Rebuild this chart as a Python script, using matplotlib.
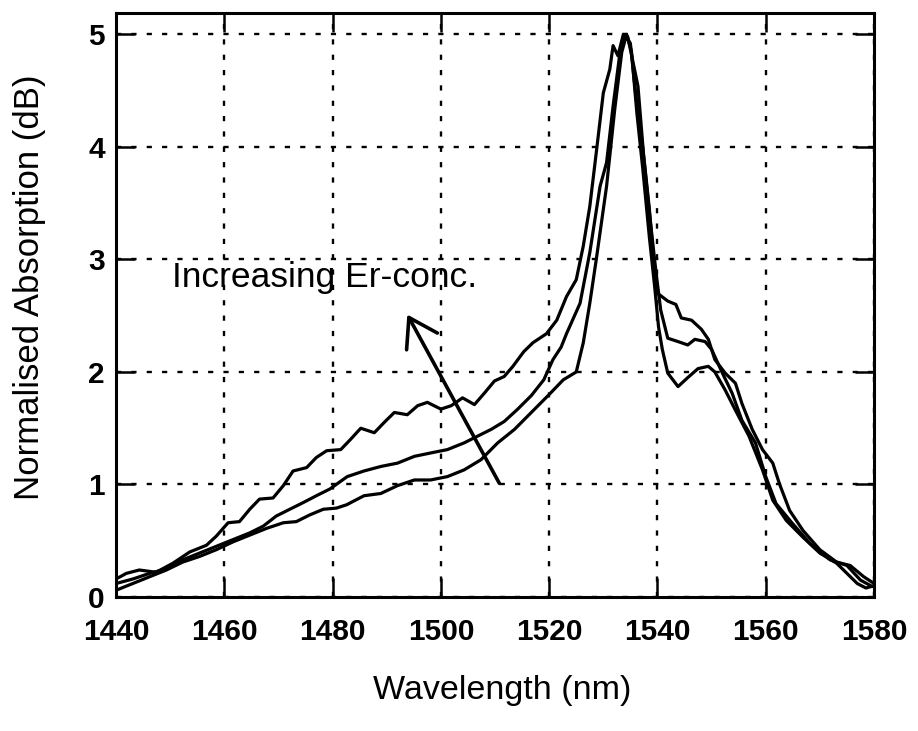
import numpy as np
import matplotlib
matplotlib.use("Agg")
import matplotlib.pyplot as plt

plt.rcParams['font.family'] = ['Liberation Sans', 'DejaVu Sans']

# highest Er concentration (broadest long-wavelength wing)
wl_a = [1440, 1441.9, 1444.3, 1447.4, 1450.5, 1453.6, 1456.7, 1458.5, 1460.7, 1462.8,
        1464.7, 1466.5, 1469, 1470.9, 1472.7, 1475.2, 1477, 1478.9, 1481.5, 1483.3,
        1485.2, 1487.7, 1489.5, 1491.4, 1493.8, 1495.7, 1497.5, 1500, 1501.9, 1504,
        1506.2, 1508, 1509.9, 1511.7, 1513.3, 1515.3, 1517, 1519.5, 1521.4, 1523.2,
        1525, 1526.3, 1527.5, 1528.7, 1530, 1531.2, 1531.8, 1532.7, 1533.7, 1534.5,
        1535.5, 1536.4, 1537.4, 1538.5, 1539.3, 1540, 1541.9, 1543.4, 1544.4, 1546.3,
        1548.1, 1549.4, 1550.6, 1552.5, 1554.4, 1555.6, 1557.5, 1559.4, 1561.3, 1562.5,
        1564.4, 1566.9, 1570, 1573.1, 1575.6, 1578.1, 1580]
abs_a = [0.16, 0.21, 0.24, 0.22, 0.30, 0.40, 0.46, 0.54, 0.66, 0.67,
         0.78, 0.87, 0.88, 0.99, 1.12, 1.15, 1.24, 1.30, 1.31, 1.40,
         1.50, 1.46, 1.55, 1.64, 1.62, 1.70, 1.73, 1.67, 1.70, 1.77,
         1.71, 1.81, 1.92, 1.96, 2.05, 2.18, 2.26, 2.34, 2.46, 2.67,
         2.82, 3.12, 3.47, 3.95, 4.48, 4.69, 4.90, 4.81, 5.00, 4.98,
         4.75, 4.54, 3.95, 3.45, 3.00, 2.70, 2.63, 2.60, 2.48, 2.46,
         2.38, 2.29, 2.11, 1.99, 1.90, 1.72, 1.49, 1.31, 1.19, 1.01,
         0.77, 0.59, 0.42, 0.31, 0.28, 0.18, 0.12]

# intermediate Er concentration
wl_b = [1440, 1443.1, 1446.2, 1449.3, 1452.3, 1455.4, 1458.5, 1461.6, 1464.7, 1467.2,
        1469.6, 1472.1, 1474.6, 1477, 1479.5, 1482.7, 1485.8, 1488.9, 1492, 1495.1,
        1498.1, 1501.2, 1504.3, 1506.8, 1509.3, 1511.7, 1514.2, 1516.7, 1519, 1520.7,
        1522.2, 1523.2, 1525.7, 1527.5, 1529.4, 1530.6, 1531.8, 1533, 1534, 1535,
        1536, 1537.2, 1538.5, 1539.7, 1540.6, 1541.9, 1543.8, 1545.6, 1546.9, 1548.8,
        1550, 1551.9, 1553.8, 1555.6, 1558.1, 1560, 1561.9, 1565, 1568.1, 1571.9,
        1575, 1577.5, 1579.4, 1580]
abs_b = [0.12, 0.16, 0.21, 0.25, 0.33, 0.39, 0.45, 0.51, 0.57, 0.63,
         0.72, 0.78, 0.84, 0.90, 0.96, 1.07, 1.12, 1.16, 1.19, 1.25,
         1.28, 1.31, 1.37, 1.43, 1.49, 1.56, 1.67, 1.79, 1.93, 2.11,
         2.22, 2.34, 2.61, 3.06, 3.65, 3.86, 4.36, 4.81, 5.00, 4.92,
         4.46, 4.03, 3.42, 2.90, 2.55, 2.30, 2.27, 2.24, 2.29, 2.27,
         2.20, 2.00, 1.81, 1.57, 1.37, 1.07, 0.83, 0.65, 0.48, 0.33,
         0.28, 0.15, 0.10, 0.09]

# lowest Er concentration (narrowest peak, dip at 1543 nm)
wl_c = [1440, 1443.1, 1446.2, 1449.3, 1452.3, 1455.4, 1458.5, 1461.6, 1464.7, 1467.8,
        1470.9, 1473.3, 1475.8, 1478.3, 1480.7, 1482.6, 1485.8, 1488.9, 1492, 1495.1,
        1498.1, 1501.2, 1504.3, 1507.4, 1510.5, 1513.6, 1516.7, 1519.8, 1522.6, 1525,
        1526.3, 1527.5, 1528.7, 1530.6, 1532.1, 1533.4, 1534.3, 1535.2, 1536.2, 1537.3,
        1538.5, 1539.5, 1540.2, 1540.9, 1541.9, 1543.8, 1545.6, 1547.5, 1549.4, 1550.6,
        1552.5, 1554.4, 1556.9, 1559.4, 1561.3, 1563.8, 1566.9, 1570, 1573.1, 1576.9,
        1578.5, 1580]
abs_c = [0.06, 0.12, 0.18, 0.24, 0.31, 0.36, 0.42, 0.49, 0.55, 0.61,
         0.66, 0.67, 0.73, 0.78, 0.79, 0.82, 0.90, 0.92, 0.99, 1.04,
         1.04, 1.07, 1.13, 1.22, 1.37, 1.49, 1.64, 1.79, 1.93, 2.00,
         2.26, 2.61, 3.00, 3.65, 4.33, 4.84, 5.00, 4.85, 4.30, 3.80,
         3.20, 2.75, 2.40, 2.20, 1.99, 1.87, 1.95, 2.03, 2.05, 2.00,
         1.84, 1.66, 1.43, 1.13, 0.86, 0.68, 0.53, 0.39, 0.30, 0.12,
         0.08, 0.10]

x_ticks = [1440, 1460, 1480, 1500, 1520, 1540, 1560, 1580]
y_ticks = [0, 1, 2, 3, 4, 5]

fig = plt.figure(figsize=(9.18, 7.31), dpi=100)
ax = fig.add_axes([0.1264, 0.1833, 0.8257, 0.7989])

for wl, ab in [(wl_a, abs_a), (wl_b, abs_b), (wl_c, abs_c)]:
    ax.plot(wl, ab, color='black', lw=2.3, zorder=3)

ax.set_xlim(1440, 1580)
ax.set_ylim(0, 5.19)
ax.set_xticks(x_ticks)
ax.set_yticks(y_ticks)
ax.grid(True, color='black', lw=1.7, linestyle=(0, (2.2, 4.3)))
ax.tick_params(direction='in', length=14, width=1.8, top=True, right=True,
               labelsize=21.5)
ax.tick_params(axis='x', pad=15)
ax.tick_params(axis='y', pad=8)
for lab in ax.get_xticklabels() + ax.get_yticklabels():
    lab.set_fontweight('bold')
for sp in ax.spines.values():
    sp.set_linewidth(2.2)

ax.set_xlabel('Wavelength (nm)', fontsize=24.5)
ax.set_ylabel('Normalised Absorption (dB)', fontsize=25)
ax.xaxis.set_label_coords(0.509, -0.133)
ax.yaxis.set_label_coords(-0.092, 0.531)

ax.annotate('', xy=(1493.8, 2.51), xytext=(1510.8, 1.01),
            arrowprops=dict(arrowstyle='->,head_length=0.7,head_width=0.45',
                            lw=2.6, color='black', mutation_scale=28,
                            shrinkA=0, shrinkB=0), zorder=4)
ax.text(1450.3, 2.84, 'Increasing Er-conc.', fontsize=25.5, va='center', ha='left')

fig.savefig('out.png', dpi=100)
